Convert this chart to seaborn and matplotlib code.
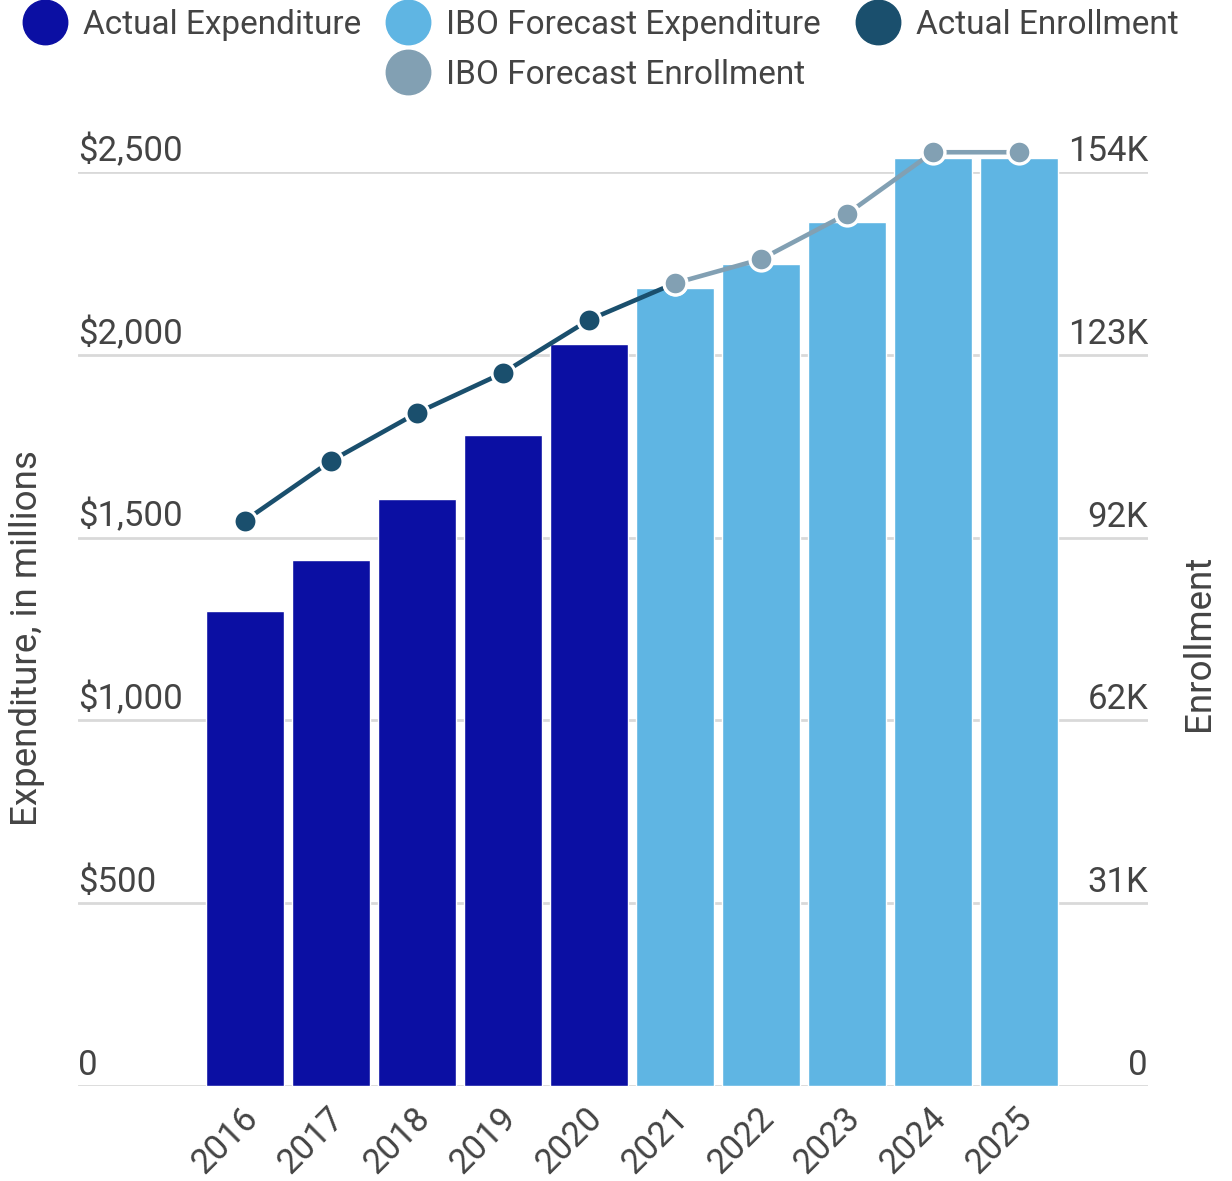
import matplotlib
matplotlib.use("Agg")
import matplotlib.pyplot as plt
import matplotlib.transforms as mtransforms
from matplotlib.lines import Line2D
import seaborn as sns
import pandas as pd

# Fiscal years and series values
years = ["2016", "2017", "2018", "2019", "2020",
         "2021", "2022", "2023", "2024", "2025"]
expenditure = [1299, 1439, 1606, 1781, 2030, 2183, 2248, 2362, 2538, 2538]
expenditure_kind = ["Actual Expenditure"] * 5 + ["IBO Forecast Expenditure"] * 5
actual_enrollment = [95250, 105300, 113400, 120140, 129070, 135260]
forecast_enrollment = [135260, 139300, 146930, 157330, 157330]

left_ticks = [0, 500, 1000, 1500, 2000, 2500]
left_labels = ["0", "$500", "$1,000", "$1,500", "$2,000", "$2,500"]
right_ticks = [0, 30800, 61600, 92400, 123200, 154000]
right_labels = ["0", "31K", "62K", "92K", "123K", "154K"]

C_ACT_EXP = "#0b0fa3"
C_FC_EXP = "#5fb5e3"
C_ACT_ENR = "#1a4f6d"
C_FC_ENR = "#82a0b3"
TEXT = "#444444"
GRID = "#d9d9d9"

sns.set_theme(style="white")
plt.rcParams["font.family"] = ["Roboto", "DejaVu Sans"]
FS_TICK = 25
FS_LEG = 24
FS_AXLABEL = 26.5

W, H = 1232, 1181
fig = plt.figure(figsize=(W / 100, H / 100), dpi=100)
ax = fig.add_axes([78 / W, 1 - 1086 / H, 1070 / W, 914 / H])

df = pd.DataFrame({"year": years, "expenditure": expenditure, "kind": expenditure_kind})
sns.barplot(data=df, x="year", y="expenditure", hue="kind", dodge=False,
            palette={"Actual Expenditure": C_ACT_EXP, "IBO Forecast Expenditure": C_FC_EXP},
            width=0.907, saturation=1, legend=False, ax=ax, zorder=2)
for p in ax.patches:
    p.set_clip_on(False)

ax.set_xlim(-1.94, 10.5)
ax.set_ylim(0, 2500)
ax.set_yticks(left_ticks)
ax.set_yticklabels(left_labels)
ax.yaxis.grid(True, color=GRID, linewidth=2.0, zorder=0)
ax.set_axisbelow(True)
for s in ax.spines.values():
    s.set_visible(False)
ax.tick_params(axis="y", length=0, pad=0, labelsize=FS_TICK, labelcolor=TEXT)
ax.tick_params(axis="x", length=0, pad=4, labelsize=FS_TICK, labelcolor=TEXT)
up = mtransforms.ScaledTranslation(0, 4 / 100, fig.dpi_scale_trans)
for lab in ax.get_yticklabels():
    lab.set_horizontalalignment("left")
    lab.set_verticalalignment("bottom")
    lab.set_transform(lab.get_transform() + up)
shift = mtransforms.ScaledTranslation(-4 / 100, -10 / 100, fig.dpi_scale_trans)
for lab in ax.get_xticklabels():
    lab.set_rotation(45)
    lab.set_rotation_mode("anchor")
    lab.set_horizontalalignment("right")
    lab.set_verticalalignment("top")
    lab.set_transform(lab.get_transform() + shift)
ax.set_xlabel("")
ax.set_ylabel("Expenditure, in millions", fontsize=FS_AXLABEL, color=TEXT)
ax.yaxis.set_label_coords(-0.031, 0.49)

# Enrollment on the secondary axis
ax2 = ax.twinx()
ax2.set_ylim(0, 154000)
ax2.set_yticks(right_ticks)
ax2.set_yticklabels(right_labels)
for s in ax2.spines.values():
    s.set_visible(False)
ax2.grid(False)
ax2.tick_params(axis="y", length=0, pad=0, labelsize=FS_TICK, labelcolor=TEXT)
for lab in ax2.get_yticklabels():
    lab.set_horizontalalignment("right")
    lab.set_verticalalignment("bottom")
    lab.set_transform(lab.get_transform() + up)
ax2.set_ylabel("Enrollment", fontsize=FS_AXLABEL, color=TEXT)
ax2.yaxis.set_label_coords(1.031, 0.485)

act_x = list(range(len(actual_enrollment)))
fc_x = list(range(len(years) - len(forecast_enrollment), len(years)))
df_act = pd.DataFrame({"x": act_x, "y": actual_enrollment})
df_fc = pd.DataFrame({"x": fc_x, "y": forecast_enrollment})

sns.lineplot(data=df_act, x="x", y="y", ax=ax2, color=C_ACT_ENR, linewidth=3.3,
             marker="o", markersize=16.5, markerfacecolor=C_ACT_ENR,
             markeredgecolor="white", markeredgewidth=2.2, clip_on=False, zorder=3)
sns.lineplot(data=df_fc, x="x", y="y", ax=ax2, color=C_FC_ENR, linewidth=3.3,
             marker="o", markersize=16.5, markerfacecolor=C_FC_ENR,
             markeredgecolor="white", markeredgewidth=2.4, clip_on=False, zorder=4)
ax2.set_xlim(-1.94, 10.5)
ax2.set_xlabel("")

# Legend entries across the top
entries = [
    ("Actual Expenditure", C_ACT_EXP, 22, 25),
    ("IBO Forecast Expenditure", C_FC_EXP, 385, 25),
    ("Actual Enrollment", C_ACT_ENR, 855, 25),
    ("IBO Forecast Enrollment", C_FC_ENR, 385, 75),
]
for label, color, lx, ly in entries:
    h = Line2D([], [], linestyle="none", marker="o", markersize=32,
               markerfacecolor=color, markeredgecolor=color)
    fig.legend([h], [label], loc="center left", bbox_to_anchor=(lx / W, 1 - ly / H),
               frameon=False, fontsize=FS_LEG, labelcolor=TEXT, borderpad=0,
               borderaxespad=0, handlelength=1.38, handletextpad=0.45)

fig.savefig("out.png", dpi=100)
